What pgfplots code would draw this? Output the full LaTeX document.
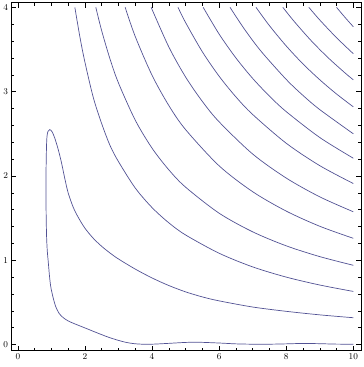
\documentclass[border=0pt]{standalone}
\usepackage{pgfplots}
\pgfplotsset{compat=1.18}
\definecolor{cline}{rgb}{0.32,0.32,0.58}
\begin{document}
\begin{tikzpicture}
\begin{axis}[
  name=ax,
  scale only axis, width=350bp, height=348bp,
  xmin=-0.19, xmax=10.24, ymin=-0.072, ymax=4.055,
  xtick={0,2,4,6,8,10}, minor x tick num=3,
  ytick={0,1,2,3,4}, minor y tick num=4,
  tick align=inside,
  major tick length=5bp, minor tick length=3bp,
  tick style={black, line width=0.5bp},
  axis line style={line width=0.6bp},
  ticklabel style={font=\fontsize{9}{9}\selectfont},
  cl/.style={draw=cline, line width=0.7bp, mark=none, smooth},
]
% spike / bottom contour
\addplot[cl, tension=0.5] coordinates {
(10.0,0.318) (9.0,0.352) (8.0,0.394) (7.0,0.445) (6.0,0.518) (5.5,0.565)
(5.0,0.625) (4.5,0.70) (4.0,0.79) (3.5,0.895) (3.0,1.015) (2.75,1.085)
(2.5,1.165) (2.25,1.26) (2.0,1.38) (1.8,1.51) (1.65,1.63) (1.5,1.80)
(1.4,1.97) (1.3,2.16) (1.2,2.32) (1.1,2.45) (1.02,2.525) (0.95,2.55)
(0.90,2.53) (0.87,2.47) (0.855,2.35) (0.845,2.15) (0.838,1.95) (0.84,1.7)
(0.848,1.45) (0.86,1.25) (0.88,1.10) (0.903,1.00) (0.94,0.83) (0.98,0.69)
(1.05,0.56) (1.13,0.45) (1.23,0.37) (1.35,0.32) (1.5,0.28) (1.7,0.245)
(1.95,0.205) (2.2,0.165) (2.45,0.125) (2.7,0.087) (2.95,0.055) (3.2,0.028)
(3.45,0.011) (3.7,0.004) (4.0,0.004) (4.5,0.014) (5.0,0.025) (5.4,0.027)
(6.0,0.018) (6.5,0.008) (7.0,0.004) (7.5,0.004) (8.0,0.008) (8.5,0.013)
(9.0,0.010) (9.5,0.005) (10.0,0.004)
};
% C1
\addplot[cl] coordinates {
(1.70,4.00) (1.85,3.65) (2.0,3.35) (2.25,2.93) (2.5,2.62) (2.75,2.36)
(3.0,2.17) (3.5,1.857) (4.0,1.625) (4.5,1.444) (5.0,1.30) (6.0,1.083)
(7.0,0.921) (8.0,0.80) (9.0,0.706) (10.0,0.63)
};
% C2
\addplot[cl] coordinates {
(2.325,4.000) (2.5,3.722) (2.75,3.385) (3.0,3.103) (3.5,2.662) (4.0,2.330)
(4.5,2.073) (5.0,1.867) (6.0,1.558) (7.0,1.337) (8.0,1.171) (9.0,1.043) (10.0,0.940)
};
% C3
\addplot[cl] coordinates {
(3.2,4.000) (3.5,3.654) (4.0,3.195) (4.5,2.836) (5.0,2.550) (6.0,2.120)
(7.0,1.813) (8.0,1.583) (9.0,1.403) (10.0,1.260)
};
% C4
\addplot[cl] coordinates {
(3.975,4.000) (4.5,3.531) (5.0,3.174) (5.5,2.884) (6.0,2.642) (7.0,2.260)
(8.0,1.975) (9.0,1.752) (10.0,1.575)
};
% C5
\addplot[cl] coordinates {
(4.775,4.000) (5.0,3.820) (5.5,3.473) (6.0,3.183) (6.5,2.938) (7.0,2.729)
(8.0,2.388) (9.0,2.122) (10.0,1.910)
};
% C6
\addplot[cl] coordinates {
(5.525,4.000) (6.0,3.683) (6.5,3.400) (7.0,3.157) (7.5,2.947) (8.0,2.763)
(9.0,2.456) (10.0,2.210)
};
% C7
\addplot[cl] coordinates {
(6.325,4.000) (6.75,3.744) (7.25,3.479) (8.0,3.145) (8.5,2.955) (9.0,2.787) (10.0,2.500)
};
% C8
\addplot[cl] coordinates {
(7.1,4.000) (7.5,3.783) (8.0,3.542) (8.5,3.329) (9.0,3.141) (9.5,2.972) (10.0,2.820)
};
% C9
\addplot[cl] coordinates {
(7.9,4.000) (8.25,3.827) (8.75,3.602) (9.25,3.402) (9.75,3.223) (10.0,3.140)
};
% C10
\addplot[cl] coordinates {
(8.675,4.000) (9.0,3.850) (9.5,3.640) (10.0,3.450)
};
% C11
\addplot[cl] coordinates {
(9.5,4.000) (9.75,3.882) (10.0,3.770)
};
\end{axis}
\path (ax.south west) ++(-8.3bp,-16.4bp);
\path (ax.north east) ++(1.7bp,2.7bp);
\end{tikzpicture}
\end{document}
